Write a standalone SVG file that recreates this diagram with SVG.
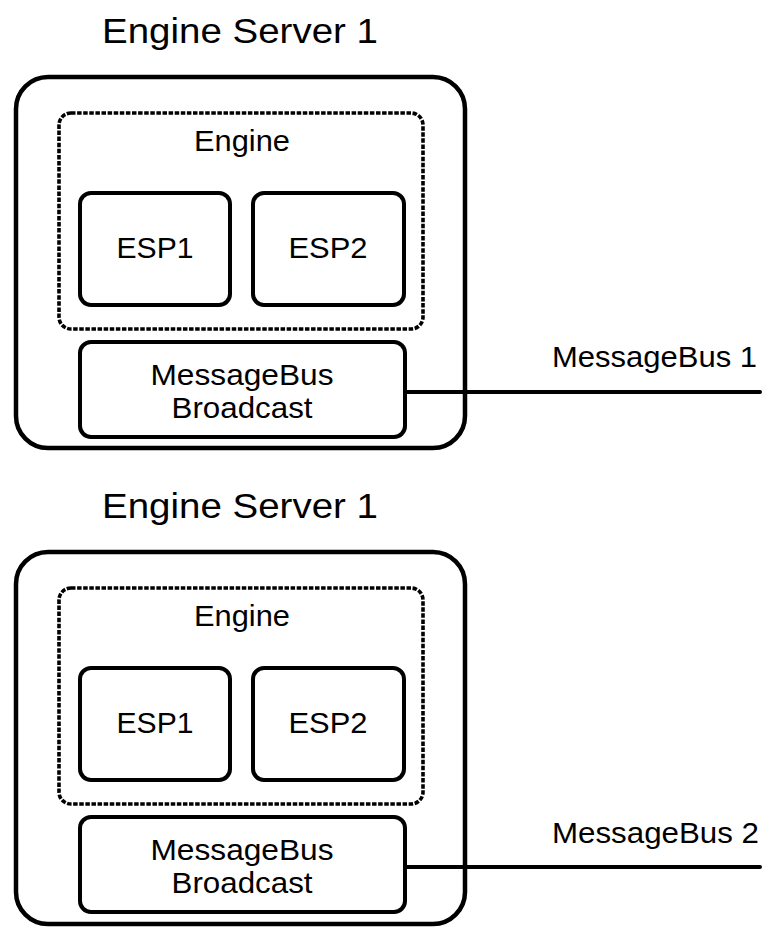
<svg xmlns="http://www.w3.org/2000/svg" width="763" height="929" viewBox="0 0 763 929">
<style>
.box{fill:#fff;stroke:#000;stroke-width:4.5}
.inner{fill:#fff;stroke:#000;stroke-width:4}
.dash{fill:none;stroke:#000;stroke-width:3.6;stroke-dasharray:4.5 1.6}
.wire{stroke:#000;stroke-width:4;stroke-linecap:round;fill:none}
text{font-family:"Liberation Sans",Arial,sans-serif;fill:#000}
.t{font-size:35px;text-anchor:middle}
.l{font-size:29px;text-anchor:middle}
.m{font-size:29px}
</style>
<rect width="763" height="929" fill="#fff"/>

<g id="server1">
  <text class="t" x="240" y="43" textLength="276" lengthAdjust="spacingAndGlyphs">Engine Server 1</text>
  <rect class="box" x="16" y="77" width="449" height="371" rx="32"/>
</g>
<g id="engine1">
  <rect class="dash" x="59" y="113" width="364" height="216" rx="12"/>
  <text class="l" x="242" y="151" textLength="96" lengthAdjust="spacingAndGlyphs">Engine</text>
</g>
<g id="esp1a">
  <rect class="inner" x="80" y="193" width="150" height="112" rx="11"/>
  <text class="l" x="155" y="258" textLength="77" lengthAdjust="spacingAndGlyphs">ESP1</text>
</g>
<g id="esp2a">
  <rect class="inner" x="253" y="193" width="151" height="112" rx="11"/>
  <text class="l" x="328" y="258" textLength="79" lengthAdjust="spacingAndGlyphs">ESP2</text>
</g>
<g id="mb1">
  <rect class="inner" x="80" y="342" width="325" height="95" rx="11"/>
  <text class="l" x="242" y="385" textLength="183" lengthAdjust="spacingAndGlyphs">MessageBus</text>
  <text class="l" x="242" y="418" textLength="141" lengthAdjust="spacingAndGlyphs">Broadcast</text>
</g>

<g id="server2">
  <text class="t" x="240" y="518" textLength="276" lengthAdjust="spacingAndGlyphs">Engine Server 1</text>
  <rect class="box" x="16" y="552" width="449" height="372" rx="32"/>
</g>
<g id="engine2">
  <rect class="dash" x="59" y="588" width="364" height="216" rx="12"/>
  <text class="l" x="242" y="626" textLength="96" lengthAdjust="spacingAndGlyphs">Engine</text>
</g>
<g id="esp1b">
  <rect class="inner" x="80" y="668" width="150" height="112" rx="11"/>
  <text class="l" x="155" y="733" textLength="77" lengthAdjust="spacingAndGlyphs">ESP1</text>
</g>
<g id="esp2b">
  <rect class="inner" x="253" y="668" width="151" height="112" rx="11"/>
  <text class="l" x="328" y="733" textLength="79" lengthAdjust="spacingAndGlyphs">ESP2</text>
</g>
<g id="mb2">
  <rect class="inner" x="80" y="817" width="325" height="95" rx="11"/>
  <text class="l" x="242" y="860" textLength="183" lengthAdjust="spacingAndGlyphs">MessageBus</text>
  <text class="l" x="242" y="893" textLength="141" lengthAdjust="spacingAndGlyphs">Broadcast</text>
</g>

<g id="connectors">
  <line class="wire" x1="405" y1="392" x2="760" y2="392"/>
  <text class="m" x="552" y="367" textLength="205" lengthAdjust="spacingAndGlyphs">MessageBus 1</text>
  <line class="wire" x1="405" y1="867" x2="760" y2="867"/>
  <text class="m" x="552" y="843" textLength="207" lengthAdjust="spacingAndGlyphs">MessageBus 2</text>
</g>
</svg>
